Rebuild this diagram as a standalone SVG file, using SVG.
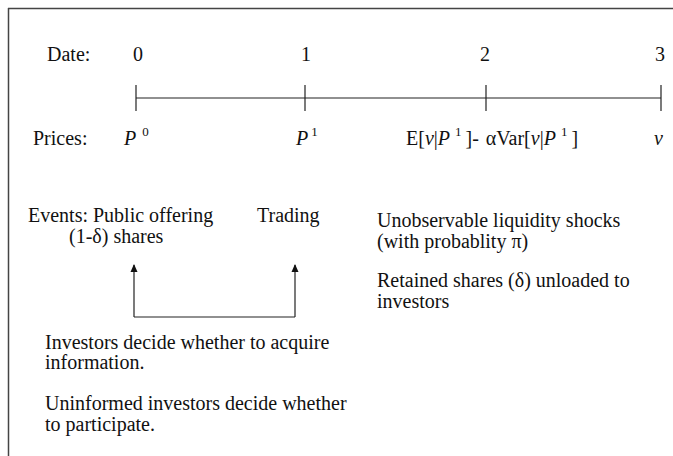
<svg xmlns="http://www.w3.org/2000/svg" width="673" height="456" viewBox="0 0 673 456">
<defs>
<style>
text{font-family:"Liberation Serif","Times New Roman",serif;font-size:20px;fill:#111}
.it{font-style:italic}
.sup{font-size:13px}
.ln{stroke:#222;stroke-width:1.2;fill:none}
</style>
<marker id="ah" viewBox="0 0 8 10" refX="7" refY="5" markerWidth="8" markerHeight="10" markerUnits="userSpaceOnUse" orient="auto">
<path d="M0,1.5 L8,5 L0,8.5 Z" fill="#111"/>
</marker>
</defs>
<rect width="673" height="456" fill="#fff"/>
<g id="frame">
<line x1="8" y1="8.5" x2="673" y2="8.5" stroke="#444" stroke-width="1.5"/>
<line x1="8.5" y1="8" x2="8.5" y2="456" stroke="#444" stroke-width="1.5"/>
</g>
<g id="timeline">
<line class="ln" x1="136" y1="98" x2="661" y2="98"/>
<line class="ln" x1="136" y1="85" x2="136" y2="111"/>
<line class="ln" x1="305" y1="85" x2="305" y2="111"/>
<line class="ln" x1="486" y1="85" x2="486" y2="111"/>
<line class="ln" x1="661" y1="85" x2="661" y2="111"/>
</g>
<g id="dates">
<text x="47" y="61">Date:</text>
<text x="133" y="61">0</text>
<text x="301" y="61">1</text>
<text x="480" y="61">2</text>
<text x="655" y="61">3</text>
</g>
<g id="prices">
<text x="33" y="145">Prices:</text>
<text x="124" y="145"><tspan class="it">P</tspan><tspan class="sup" dx="6" dy="-9">0</tspan></text>
<text x="296" y="145"><tspan class="it">P</tspan><tspan class="sup" dx="3" dy="-9">1</tspan></text>
<text x="406" y="145">E[<tspan class="it">v</tspan>|<tspan class="it">P</tspan><tspan class="sup" dx="5" dy="-9">1</tspan><tspan dx="4" dy="9">]- </tspan><tspan dx="2">αVar[</tspan><tspan class="it">v</tspan>|<tspan class="it">P</tspan><tspan class="sup" dx="5" dy="-9">1</tspan><tspan dx="4" dy="9">]</tspan></text>
<text class="it" x="654" y="145">v</text>
</g>
<g id="events">
<text x="28" y="222">Events: Public offering</text>
<text x="69" y="243">(1-δ) shares</text>
<text x="257" y="222">Trading</text>
</g>
<g id="info-decision">
<text x="45" y="349">Investors decide whether to acquire</text>
<text x="45" y="369">information.</text>
<text x="45" y="410">Uninformed investors decide whether</text>
<text x="45" y="431">to participate.</text>
</g>
<g id="date2-events">
<text x="377" y="227">Unobservable liquidity shocks</text>
<text x="377" y="248">(with probablity π)</text>
<text x="377" y="287">Retained shares (δ) unloaded to</text>
<text x="377" y="308">investors</text>
</g>
<g id="connectors">
<path class="ln" d="M134,317 L134,265" marker-end="url(#ah)"/>
<path class="ln" d="M295,317 L295,265" marker-end="url(#ah)"/>
<line class="ln" x1="134" y1="317" x2="295" y2="317"/>
</g>
</svg>
